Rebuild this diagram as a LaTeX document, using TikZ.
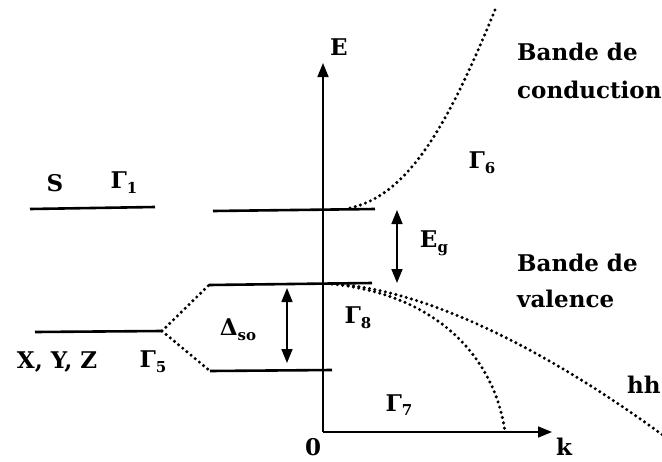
\documentclass[tikz,border=0pt]{standalone}
\usepackage{fontspec}
\setmainfont{DejaVu Serif}
\usetikzlibrary{arrows.meta}
\newcommand\lsub[1]{\raisebox{-0.4ex}{\fontsize{15}{15}\selectfont #1}}
\begin{document}
\begin{tikzpicture}[x=1pt,y=-1pt,
  lvl/.style={line width=2.6pt},
  axis/.style={line width=1.6pt,-{Triangle[length=14pt,width=11pt]}},
  dbl/.style={line width=1.6pt,{Triangle[length=14pt,width=11pt]}-{Triangle[length=14pt,width=11pt]}},
  dots/.style={line width=3.4pt,line cap=round,dash pattern=on 0pt off 5.4pt,black},
  lab/.style={font=\fontsize{23}{26}\selectfont\bfseries,inner sep=0pt},
  big/.style={font=\fontsize{23}{26}\selectfont\bfseries,inner sep=0pt,anchor=west},
]
\useasboundingbox (0,0) rectangle (662,461);
% axes
\coordinate (O) at (323,432);
\coordinate (Etip) at (323,63);
\coordinate (ktip) at (552,432);
\draw[axis] (O) -- (Etip);
\draw[axis] (O) -- (ktip);
% atomic levels
\coordinate (s1) at (30,209);
\coordinate (s2) at (155,207);
\coordinate (p1) at (35,332);
\coordinate (p2) at (162,331);
\draw[lvl] (s1) -- (s2);
\draw[lvl] (p1) -- (p2);
% crystal levels
\coordinate (c1) at (213,211);
\coordinate (c2) at (375,209);
\coordinate (v1) at (209,285);
\coordinate (v2) at (372,283);
\coordinate (so1) at (210,371);
\coordinate (so2) at (332,370);
\draw[lvl] (c1) -- (c2);
\draw[lvl] (v1) -- (v2);
\draw[lvl] (so1) -- (so2);
% splitting
\draw[dots] (p2) -- (v1);
\draw[dots] (p2) -- (so1);
% bands
\coordinate (cb0) at (350,208);
\coordinate (cb1) at (495,10);
\draw[dots] (cb0) .. controls (410,195) and (450,120) .. (cb1);
\coordinate (vb0) at (332,284);
\coordinate (hh1) at (664,436);
\coordinate (lh1) at (505,432);
\draw[dots] (vb0) .. controls (420,288) and (540,345) .. (hh1);
\draw[dots] (vb0) .. controls (440,295) and (495,360) .. (lh1);
% arrows
\coordinate (eg1) at (397,210);
\coordinate (eg2) at (397,283);
\draw[dbl] (eg1) -- (eg2);
\coordinate (d1) at (287,288);
\coordinate (d2) at (287,363);
\draw[dbl] (d1) -- (d2);
% labels
\node[lab] (E) at (339,47) {E};
\node[lab] (zero) at (313,447) {0};
\node[lab] (k) at (564,447) {k};
\node[lab] (S) at (55,183) {S};
\node[lab] (G1) at (124,183) {Γ\lsub{1}};
\node[lab] (XYZ) at (57,362) {X, Y, Z};
\node[lab] (G5) at (153,362) {Γ\lsub{5}};
\node[lab] (Dso) at (238,330) {Δ\lsub{so}};
\node[lab] (G6) at (482,163) {Γ\lsub{6}};
\node[lab] (Eg) at (434,243) {E\lsub{g}};
\node[lab] (G8) at (358,318) {Γ\lsub{8}};
\node[lab] (G7) at (399,405) {Γ\lsub{7}};
\node[big] (bc1) at (517,52) {Bande de};
\node[big] (bc2) at (517,90) {conduction};
\node[big] (bv1) at (517,263) {Bande de};
\node[big] (bv2) at (517,299) {valence};
\node[big] (hh) at (627,385) {hh};
\end{tikzpicture}
\end{document}
